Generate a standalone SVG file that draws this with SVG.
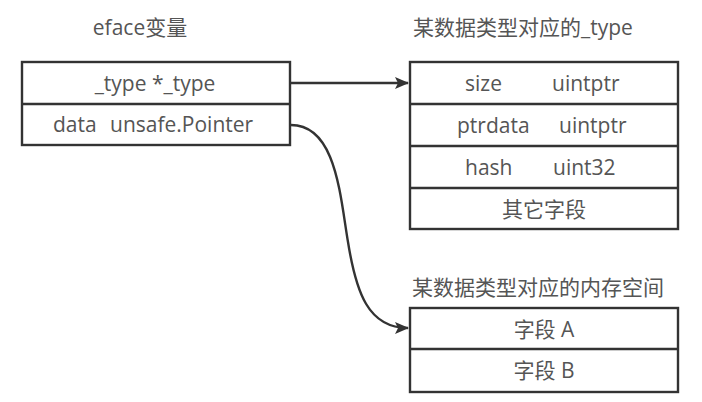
<svg xmlns="http://www.w3.org/2000/svg" width="702" height="402" viewBox="0 0 702 402">
<defs>
<style>
.t{font-family:"Open Sans","Noto Sans CJK SC",sans-serif;font-size:21px;fill:#555;}
.m{text-anchor:middle;}
.b{fill:#fff;stroke:#333;stroke-width:2.4;}
.l{stroke:#333;stroke-width:2.4;fill:none;}
</style>
<marker id="ah" markerWidth="14" markerHeight="12" refX="13" refY="6" orient="auto" markerUnits="userSpaceOnUse">
<path d="M0,0 L14,6 L0,12 L3,6 Z" fill="#333"/>
</marker>
</defs>
<rect width="702" height="402" fill="#fff"/>
<g id="eface">
<text class="t m" x="140" y="35">eface变量</text>
<rect class="b" x="22" y="62" width="268" height="83"/>
<line class="l" x1="22" y1="104" x2="290" y2="104"/>
<text class="t m" x="155" y="91">_type *_type</text>
<text class="t" x="53" y="132">data</text>
<text class="t" x="110" y="132">unsafe.Pointer</text>
</g>
<g id="type">
<text class="t" x="413" y="35">某数据类型对应的_type</text>
<rect class="b" x="410" y="62" width="268" height="167"/>
<line class="l" x1="410" y1="104" x2="678" y2="104"/>
<line class="l" x1="410" y1="146" x2="678" y2="146"/>
<line class="l" x1="410" y1="188" x2="678" y2="188"/>
<text class="t" x="465" y="91">size</text>
<text class="t" x="552" y="91">uintptr</text>
<text class="t" x="457" y="133">ptrdata</text>
<text class="t" x="559" y="133">uintptr</text>
<text class="t" x="465" y="175">hash</text>
<text class="t" x="553" y="175">uint32</text>
<text class="t m" x="544" y="217">其它字段</text>
</g>
<g id="mem">
<text class="t" x="412" y="295">某数据类型对应的内存空间</text>
<rect class="b" x="410" y="308" width="268" height="84"/>
<line class="l" x1="410" y1="349" x2="678" y2="349"/>
<text class="t m" x="544" y="337">字段 A</text>
<text class="t m" x="544" y="378">字段 B</text>
</g>
<g id="connectors">
<line class="l" x1="290" y1="83" x2="408" y2="83" marker-end="url(#ah)"/>
<path class="l" d="M290,125 C336,124 340,195 348,242 C356,292 368,328 408,328" marker-end="url(#ah)"/>
</g>
</svg>
